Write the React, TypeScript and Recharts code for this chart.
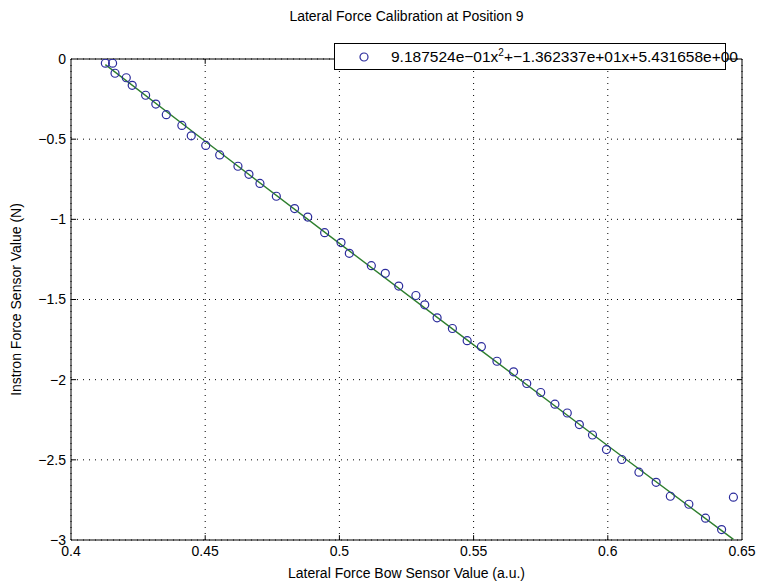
import {
  CartesianGrid,
  ComposedChart,
  Legend,
  Line,
  ReferenceArea,
  ReferenceLine,
  Scatter,
  XAxis,
  YAxis,
} from "recharts"

const xTicks = [0.4, 0.45, 0.5, 0.55, 0.6, 0.65]
const yTicks = [-3, -2.5, -2, -1.5, -1, -0.5, 0]

// bow sensor readings (a.u.) vs instron force (N)
const sensorX = [
  0.4128, 0.4155, 0.4164, 0.4206, 0.4228, 0.4278, 0.4316, 0.4355, 0.4413, 0.4448,
  0.4502, 0.4554, 0.4622, 0.4663, 0.4704, 0.4765, 0.4833, 0.4882, 0.4945, 0.5006,
  0.5037, 0.5119, 0.5171, 0.5221, 0.5285, 0.5318, 0.5364, 0.5421, 0.5476, 0.5529,
  0.5587, 0.5649, 0.5698, 0.575, 0.5803, 0.5849, 0.5894, 0.5943, 0.5995, 0.6052,
  0.6116, 0.618, 0.6233, 0.6302, 0.6364, 0.6424, 0.6468,
]
const forceY = [
  -0.026, -0.026, -0.089, -0.117, -0.164, -0.226, -0.281, -0.347, -0.414, -0.479,
  -0.539, -0.598, -0.669, -0.719, -0.776, -0.856, -0.933, -0.986, -1.083, -1.145,
  -1.212, -1.289, -1.337, -1.416, -1.475, -1.533, -1.614, -1.681, -1.757, -1.794,
  -1.885, -1.951, -2.024, -2.08, -2.153, -2.208, -2.28, -2.345, -2.436, -2.498,
  -2.577, -2.64, -2.727, -2.777, -2.864, -2.935, -2.733,
]

// green fit curve, read at a few x positions
const fitX = [0.4128, 0.45, 0.5, 0.55, 0.6, 0.6468]
const fitY = [-0.035, -0.513, -1.15, -1.783, -2.412, -2.996]

const points = sensorX.map((x, i) => ({ x, y: forceY[i] }))
const fit = fitX.map((x, i) => ({ x, y: fitY[i] }))

const font = "'Liberation Sans', Arial, Helvetica, sans-serif"
const fmt = (v: number) => String(v).replace("-", "\u2212")

const innerX = xTicks.slice(1, -1)
const innerY = yTicks.slice(1, -1)

function Circle(props: any) {
  const { cx, cy } = props
  if (cx == null || cy == null) return null
  return <circle cx={cx} cy={cy} r={4} fill="none" stroke="#2c2c9c" strokeWidth={1.2} />
}

function LegendBox() {
  return (
    <div
      style={{
        position: "relative",
        width: 392,
        height: 27,
        boxSizing: "border-box",
        border: "1px solid #000",
        background: "#fff",
        fontFamily: font,
        fontSize: 15.5,
        color: "#000",
        whiteSpace: "nowrap",
      }}
    >
      <svg width={20} height={20} style={{ position: "absolute", left: 19, top: 3 }}>
        <circle cx={10} cy={10} r={4} fill="none" stroke="#2c2c9c" strokeWidth={1.2} />
      </svg>
      <span style={{ position: "absolute", left: 56, top: 3 }}>
        9.187524e{"\u2212"}01x<sup style={{ fontSize: 10 }}>2</sup>+{"\u2212"}1.362337e+01x+5.431658e+00
      </span>
    </div>
  )
}

const tickLine = { stroke: "#000", strokeWidth: 1, ifOverflow: "visible" as const }

export default function App() {
  return (
    <div style={{ position: "relative", width: 759, height: 583, background: "#fff", fontFamily: font }}>
      <style>{"body{margin:0}"}</style>
      <div
        style={{
          position: "absolute",
          top: 8,
          left: 71,
          width: 671,
          textAlign: "center",
          fontSize: 14,
          color: "#000",
        }}
      >
        Lateral Force Calibration at Position 9
      </div>
      <ComposedChart
        width={759}
        height={583}
        margin={{ top: 32, right: 17, bottom: 0, left: 0 }}
      >
        <CartesianGrid
          xAxisId="b"
          yAxisId="l"
          stroke="#000"
          strokeDasharray="1 5"
          horizontalValues={yTicks}
          verticalValues={xTicks}
        />
        <XAxis
          xAxisId="b"
          dataKey="x"
          type="number"
          domain={[0.4, 0.65]}
          ticks={xTicks}
          tickFormatter={fmt}
          tickLine={false}
          tickSize={0}
          tickMargin={6}
          height={43}
          axisLine={false}
          tick={{ fill: "#000", fontSize: 14, fontFamily: font }}
          allowDataOverflow
          label={{
            value: "Lateral Force Bow Sensor Value (a.u.)",
            position: "insideBottom",
            offset: 5,
            fill: "#000",
            fontSize: 14,
            fontFamily: font,
          }}
        />
        <YAxis
          yAxisId="l"
          dataKey="y"
          type="number"
          domain={[-3, 0]}
          ticks={yTicks}
          tickFormatter={fmt}
          tickLine={false}
          tickSize={0}
          tickMargin={5}
          width={71}
          axisLine={false}
          tick={{ fill: "#000", fontSize: 14, fontFamily: font }}
          allowDataOverflow
          label={{
            value: "Instron Force Sensor Value (N)",
            angle: -90,
            position: "insideLeft",
            offset: 16,
            style: { textAnchor: "middle" },
            fill: "#000",
            fontSize: 14,
            fontFamily: font,
          }}
        />
        <ReferenceArea
          xAxisId="b"
          yAxisId="l"
          x1={0.4}
          x2={0.65}
          y1={-3}
          y2={0}
          fill="none"
          stroke="#000"
          strokeWidth={1}
          ifOverflow="visible"
        />
        {innerX.map((v) => (
          <ReferenceLine
            key={"xb" + v}
            xAxisId="b"
            yAxisId="l"
            segment={[{ x: v, y: -3 }, { x: v, y: -2.97 }]}
            {...tickLine}
          />
        ))}
        {innerX.map((v) => (
          <ReferenceLine
            key={"xt" + v}
            xAxisId="b"
            yAxisId="l"
            segment={[{ x: v, y: 0 }, { x: v, y: -0.03 }]}
            {...tickLine}
          />
        ))}
        {innerY.map((v) => (
          <ReferenceLine
            key={"yl" + v}
            xAxisId="b"
            yAxisId="l"
            segment={[{ x: 0.4, y: v }, { x: 0.4019, y: v }]}
            {...tickLine}
          />
        ))}
        {innerY.map((v) => (
          <ReferenceLine
            key={"yr" + v}
            xAxisId="b"
            yAxisId="l"
            segment={[{ x: 0.6481, y: v }, { x: 0.65, y: v }]}
            {...tickLine}
          />
        ))}
        <Scatter
          xAxisId="b"
          yAxisId="l"
          data={points}
          dataKey="y"
          shape={<Circle />}
          isAnimationActive={false}
        />
        <Line
          xAxisId="b"
          yAxisId="l"
          data={fit}
          dataKey="y"
          type="linear"
          stroke="#2e7f2e"
          strokeWidth={1.4}
          dot={false}
          activeDot={false}
          isAnimationActive={false}
        />
        <Legend
          verticalAlign="top"
          align="left"
          wrapperStyle={{ position: "absolute", top: 43, left: 334, width: 392, height: 27 }}
          content={() => <LegendBox />}
        />
      </ComposedChart>
    </div>
  )
}
